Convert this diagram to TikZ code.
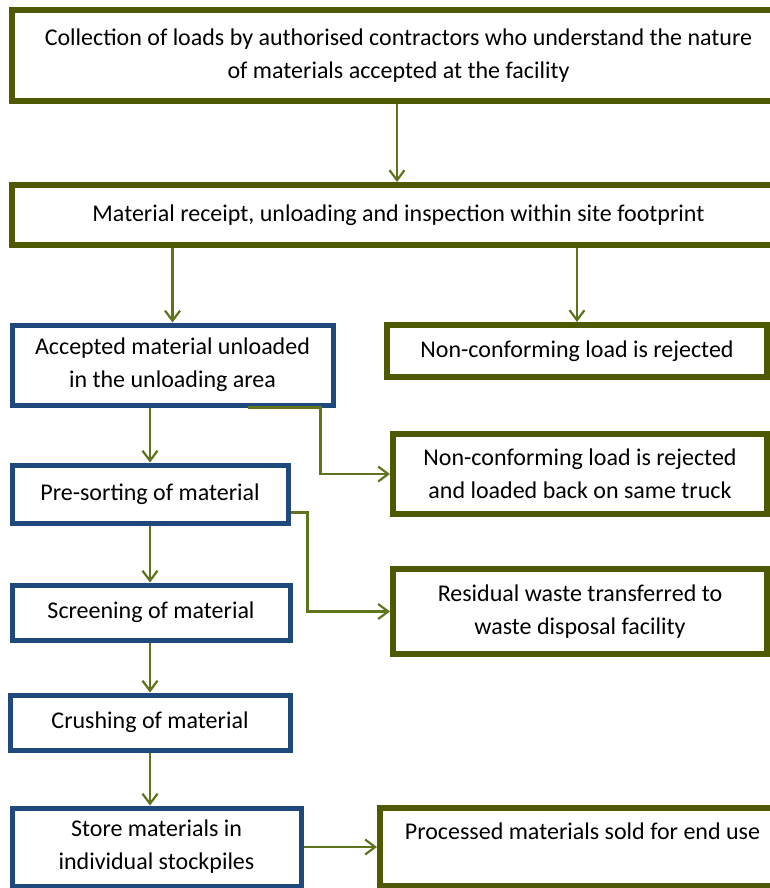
\documentclass[tikz,border=0pt]{standalone}
\usepackage{fontspec}
\setmainfont{Carlito}
\usetikzlibrary{arrows.meta,calc}
\definecolor{boxolive}{RGB}{79,89,2}
\definecolor{arrolive}{RGB}{96,116,30}
\definecolor{boxblue}{RGB}{31,73,125}

\begin{document}
\begin{tikzpicture}[x=1pt,y=-1pt,
    font=\fontsize{24}{33}\selectfont,
    greenbox/.style={draw=boxolive,line width=6pt,fill=white,inner sep=0pt,align=center},
    bluebox/.style={draw=boxblue,line width=5pt,fill=white,inner sep=0pt,align=center},
    arr/.style={draw=arrolive,line width=2.2pt,-{Straight Barb[length=10pt,width=15pt,line width=2.2pt]}},
    ]
        \clip (0,0) rectangle (770,888);
        \fill[white] (0,0) rectangle (770,888);
        % olive boxes
        \node[greenbox,minimum width=773pt,minimum height=91pt] (collect) at (398.5,55.5)
            {Collection of loads by authorised contractors who understand the nature\\of materials accepted at the facility};
        \node[greenbox,minimum width=773pt,minimum height=60pt] (receipt) at (398.5,215)
            {Material receipt, unloading and inspection within site footprint};
        \node[greenbox,minimum width=380pt,minimum height=52pt] (reject) at (577,351)
            {Non-conforming load is rejected};
        \node[greenbox,minimum width=374pt,minimum height=80pt] (truck) at (580,474)
            {Non-conforming load is rejected\\and loaded back on same truck};
        \node[greenbox,minimum width=374pt,minimum height=85pt] (residual) at (580,611.5)
            {Residual waste transferred to\\waste disposal facility};
        \node[greenbox,minimum width=405pt,minimum height=78pt] (sold) at (582.5,847)
            {Processed materials sold for end use\\[-11pt]\strut};
        % blue boxes
        \node[bluebox,minimum width=321pt,minimum height=80pt] (accepted) at (172.5,365)
            {Accepted material unloaded\\in the unloading area};
        \node[bluebox,minimum width=276pt,minimum height=58pt] (presort) at (150,494)
            {Pre-sorting of material};
        \node[bluebox,minimum width=278pt,minimum height=55pt] (screen) at (151,612.5)
            {Screening of material};
        \node[bluebox,minimum width=280pt,minimum height=55pt] (crush) at (150,722.5)
            {Crushing of material};
        \node[bluebox,minimum width=289pt,minimum height=78pt] (store) at (156.5,847)
            {Store materials in\\individual stockpiles};
        % connectors
        \draw[arr] (collect.south -| 397,0) -- (receipt.north -| 397,0);
        \draw[arr] (accepted.north |- receipt.south) -- (accepted.north);
        \draw[arr] (reject.north |- receipt.south) -- (reject.north);
        \draw[arr] (presort.north |- accepted.south) -- (presort.north);
        \draw[arr] ([xshift=-88pt]accepted.south east) -- ([xshift=-15pt]accepted.south east) |- (truck.west);
        \draw[arr] ([yshift=13pt]presort.south east) -- ++(17,0) |- (residual.west);
        \draw[arr] (presort.south) -- (presort.south |- screen.north);
        \draw[arr] (screen.south -| crush.north) -- (crush.north);
        \draw[arr] (crush.south) -- (crush.south |- store.north);
        \draw[arr] (store.east) -- (sold.west |- store.east);
    \end{tikzpicture}
\end{document}
